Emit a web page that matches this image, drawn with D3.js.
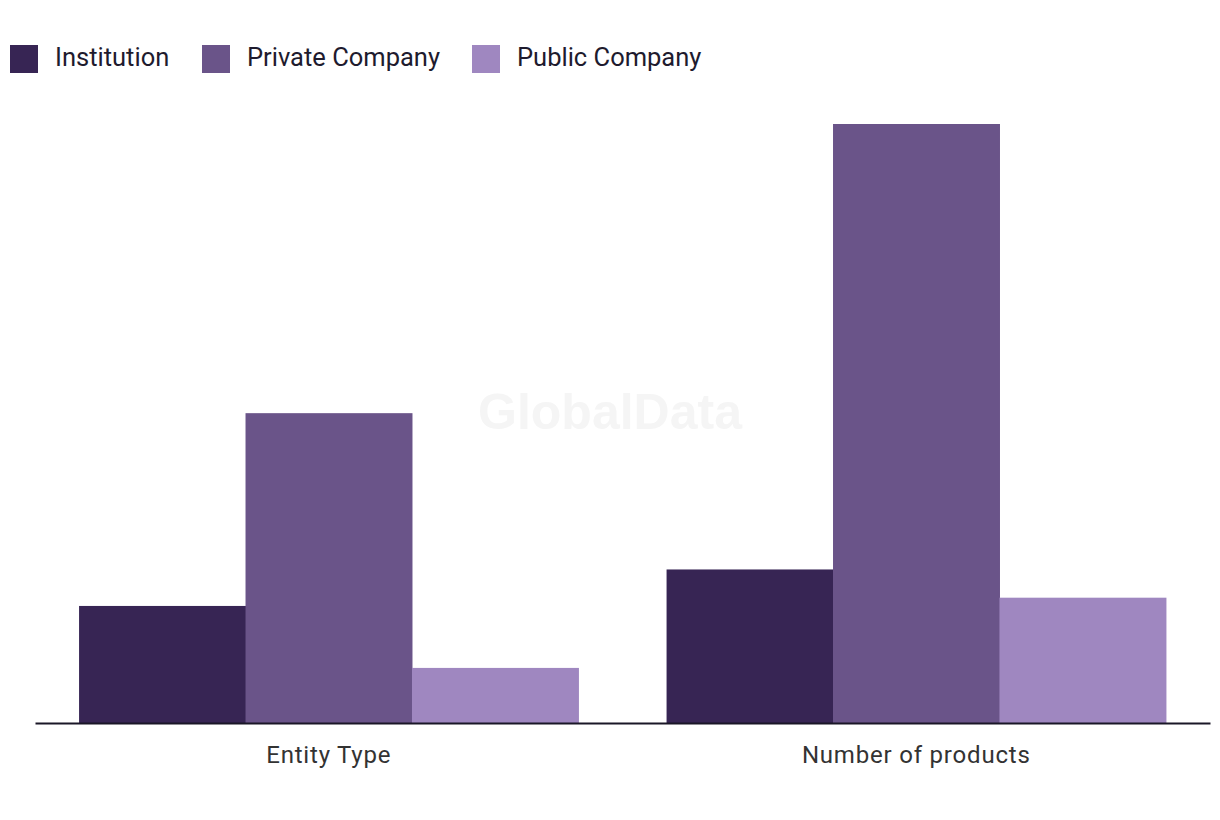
<!DOCTYPE html>
<html>
<head>
<meta charset="utf-8">
<script src="https://cdn.jsdelivr.net/npm/d3@7"></script>
<style>
  body { margin: 0; background: #fff; }
  svg { font-family: Roboto, "Noto Sans", sans-serif; }
</style>
</head>
<body>
<div class="visContainer"></div>
<script>
const categories = ['Entity Type', 'Number of products'];
const seriesNames = ['Institution', 'Private Company', 'Public Company'];
const institution = [17, 22.3];
const privateCompany = [45, 87];
const publicCompany = [8, 18.2];
const colors = ['#372554', '#6a5489', '#9f87c0'];

const values = [institution, privateCompany, publicCompany];

const width = 1220;
const height = 820;
const baseline = 723;

const svg = d3.select('.visContainer')
              .append('svg')
              .attr('width', width)
              .attr('height', height);

// watermark
svg.append('text')
   .attr('x', 610)
   .attr('y', 429)
   .attr('text-anchor', 'middle')
   .style('font-family', '"Liberation Sans", Arial, sans-serif')
   .style('font-weight', 'bold')
   .style('font-size', '50px')
   .style('fill', '#f5f5f5')
   .text('GlobalData');

const x0 = d3.scaleBand()
             .domain(categories)
             .range([35, 1210])
             .paddingInner(0.15)
             .paddingOuter(0.075);

const x1 = d3.scaleBand()
             .domain(seriesNames)
             .range([0, x0.bandwidth()]);

const yScale = d3.scaleLinear()
                 .domain([0, d3.max(privateCompany)])
                 .range([baseline, 124]);

const rows = [];
categories.forEach((c, i) => {
    seriesNames.forEach((s, j) => {
        rows.push({cat: c, series: s, value: values[j][i], color: colors[j]});
    });
});

svg.selectAll('rect.bar')
   .data(rows)
   .enter()
   .append('rect')
   .attr('class', 'bar')
   .attr('x', d => x0(d.cat) + x1(d.series))
   .attr('y', d => yScale(d.value))
   .attr('width', x1.bandwidth() + 0.5)
   .attr('height', d => baseline - yScale(d.value))
   .attr('fill', d => d.color);

const xAxis = d3.axisBottom(x0).tickSize(0).tickPadding(23);
const gx = svg.append('g')
   .attr('transform', 'translate(0,' + baseline + ')')
   .call(xAxis);
gx.select('.domain').attr('stroke', '#1a1727').attr('stroke-width', 2);
gx.selectAll('text')
  .style('font-size', '24px')
  .style('letter-spacing', '0.8px')
  .style('fill', '#333')
  .style('font-family', 'Roboto, "Noto Sans", sans-serif');

// legend
const legendX = [10, 202, 472];
const legend = svg.selectAll('g.legend')
   .data(seriesNames)
   .enter()
   .append('g')
   .attr('class', 'legend')
   .attr('transform', (d, i) => 'translate(' + legendX[i] + ',45)');
legend.append('rect')
   .attr('width', 28)
   .attr('height', 28)
   .attr('fill', (d, i) => colors[i]);
legend.append('text')
   .attr('x', 45)
   .attr('y', 21)
   .style('font-size', '25.5px')
   .style('fill', '#1e1b2e')
   .text(d => d);
</script>
</body>
</html>
